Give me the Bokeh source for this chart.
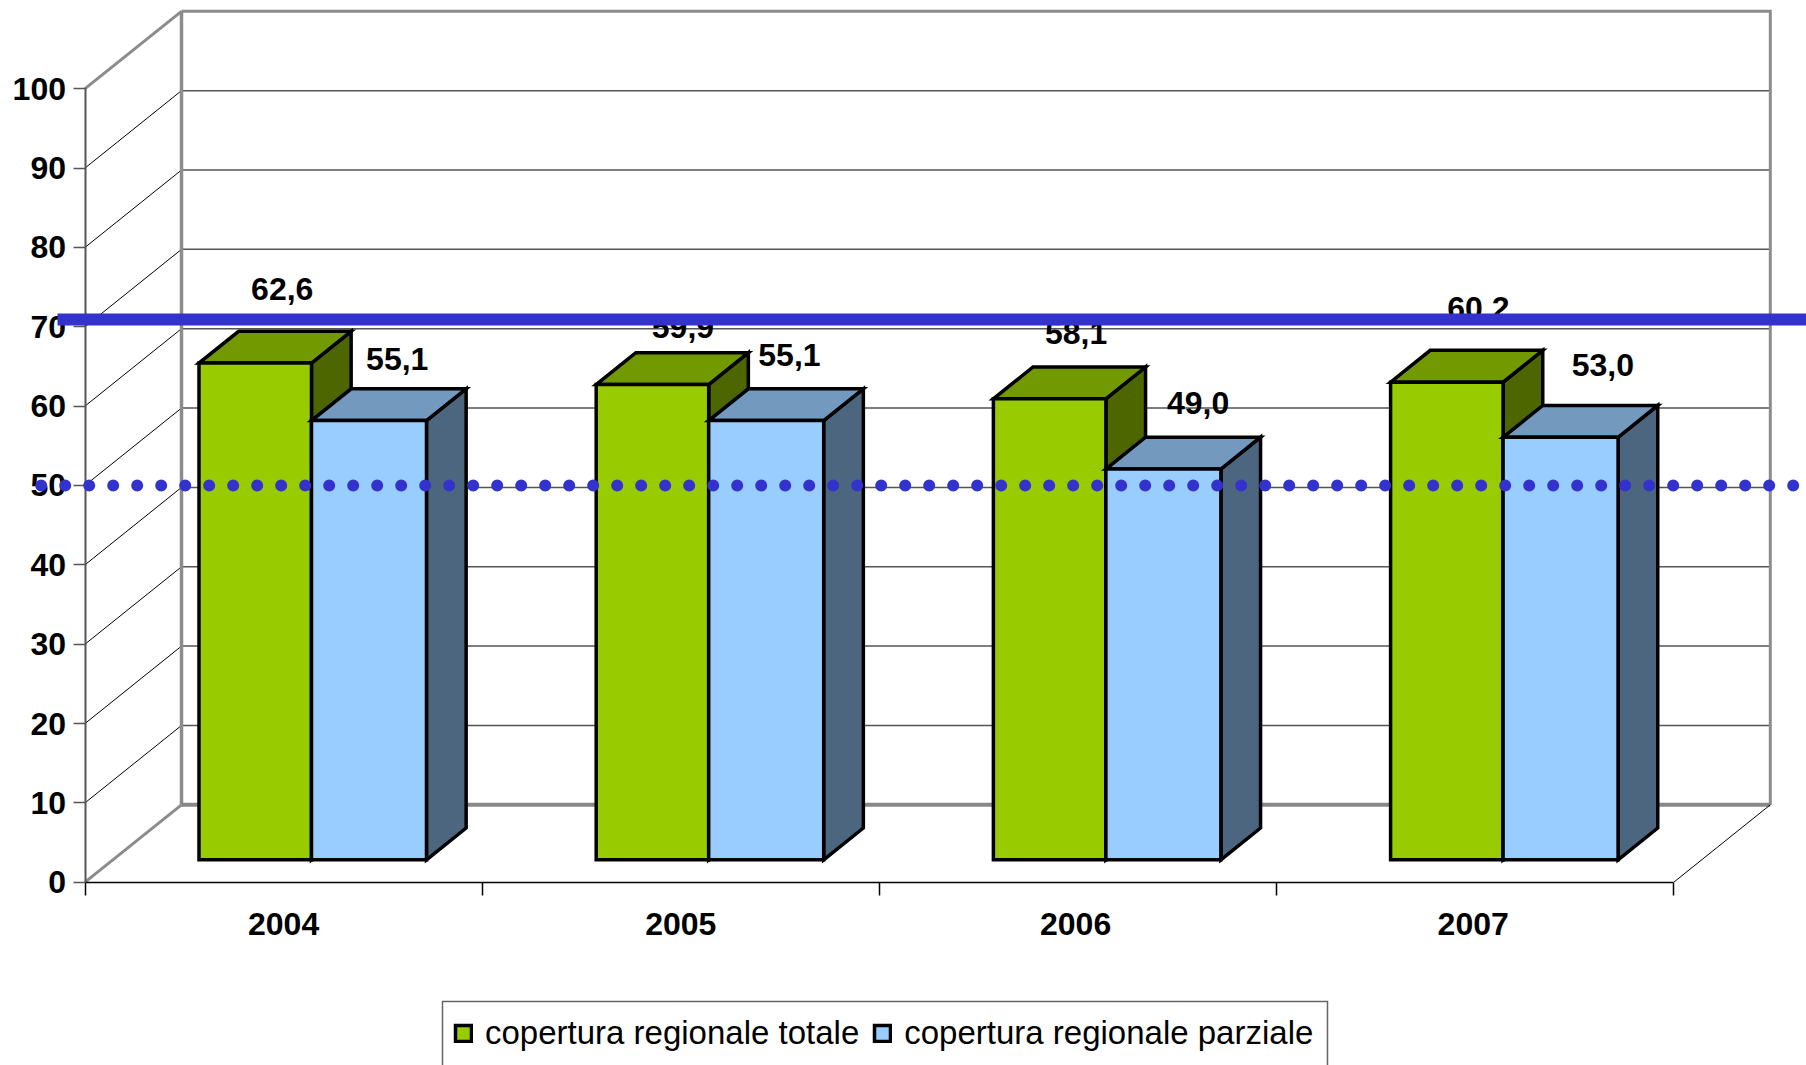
from bokeh.embed import file_html
from bokeh.resources import INLINE
from bokeh.plotting import figure
from bokeh.models import LinearAxis, FixedTicker, ColumnDataSource, Legend, LegendItem
from bokeh.core.properties import value

# ---- data ----
years = ["2004", "2005", "2006", "2007"]
totale = [62.6, 59.9, 58.1, 60.2]
parziale = [55.1, 55.1, 49.0, 53.0]
label_totale = ["62,6", "59,9", "58,1", "60,2"]
label_parziale = ["55,1", "55,1", "49,0", "53,0"]
y_ticks = [0, 10, 20, 30, 40, 50, 60, 70, 80, 90, 100]
target_high = 70.9
target_low = 50.0
series_names = ["copertura regionale totale", "copertura regionale parziale"]

# ---- label placement (screen px offset from the front-top-centre of each bar) ----
off_totale = [(27.5, -74), (31, -58), (27, -66), (32, -74)]
off_parziale = [(29, -64), (24, -68), (35.5, -68), (43, -74)]

# ---- layout ----
W, H = 1806, 1065
X0, Y0 = 84.5, 881.7        # page px of the front-left origin
PX_CAT, PX_VAL = 397.2, 7.935
DX, DY = 96.5 / PX_CAT, 77.4 / PX_VAL   # wall depth, in data units
GREEN = ("#99CC00", "#739900", "#4D6600")
BLUE = ("#99CCFF", "#7399BF", "#4D6680")
BAR_W = 1 / 3.5
BAR_WS = (112.5 / PX_CAT, 115 / PX_CAT)   # as rasterised in the reference
TOP_NUDGE = (0, 2 / PX_VAL)               # blue fronts sit 2px higher in the reference
D0, D1 = 0.289, 0.70
FONT = "Liberation Sans"

p = figure(width=W, height=H, output_backend="svg", toolbar_location=None,
           x_axis_type=None, y_axis_type=None, min_border=0,
           x_range=(-X0 / PX_CAT, (W - X0) / PX_CAT),
           y_range=((Y0 - H) / PX_VAL, Y0 / PX_VAL),
           background_fill_color="white", border_fill_color="white",
           outline_line_color=None)


def proj(c, v, d):
    return c + d * DX, v + d * DY


def page(px, py):
    return (px - X0) / PX_CAT, (Y0 - py) / PX_VAL


n = len(years)
# walls and gridlines
inner = [t for t in y_ticks if 0 < t < 100]
xs_diag, ys_diag, xs_back, ys_back = [], [], [], []
for t in inner:
    bx, by = proj(0, t, 1)
    xs_diag.append([0, bx]); ys_diag.append([t, by])
    ex, _ = proj(n, t, 1)
    xs_back.append([bx, ex]); ys_back.append([by, by])
p.multi_line(xs_back, ys_back, line_color="#555555", line_width=1.5)
p.multi_line(xs_diag, ys_diag, line_color="#000000", line_width=1)

bl = proj(0, 0, 1); br = proj(n, 0, 1); tl = proj(0, 100, 1); tr = proj(n, 100, 1)
p.line([tl[0], tr[0], br[0]], [tl[1], tr[1], br[1]], line_color="#8C8C8C", line_width=3, line_join="miter")
p.line([tl[0], bl[0]], [tl[1], bl[1]], line_color="#8C8C8C", line_width=3.5)
p.line([bl[0], br[0]], [bl[1], br[1]], line_color="#888888", line_width=4)
p.line([0, tl[0]], [100, tl[1]], line_color="#8C8C8C", line_width=3)
p.line([0, bl[0]], [0, bl[1]], line_color="#8C8C8C", line_width=3)
p.line([n, br[0]], [0, br[1]], line_color="#000000", line_width=1)


# bars as projected boxes
def box(x0, x1, v):
    a = proj(x0, 0, D0); b = proj(x1, 0, D0)
    c = proj(x1, v, D0); d = proj(x0, v, D0)
    e = proj(x0, v, D1); f = proj(x1, v, D1); g = proj(x1, 0, D1)
    side = ([b[0], g[0], f[0], c[0]], [b[1], g[1], f[1], c[1]])
    top = ([d[0], c[0], f[0], e[0]], [d[1], c[1], f[1], e[1]])
    front = ([a[0], b[0], c[0], d[0]], [a[1], b[1], c[1], d[1]])
    return side, top, front


xs, ys, colors = [], [], []
green_idx = blue_idx = None
for i in range(n):
    mid = i + 0.5
    for j, (vals, pal) in enumerate(((totale, GREEN), (parziale, BLUE))):
        x0 = mid - BAR_WS[0] if j == 0 else mid
        side, top, front = box(x0, x0 + BAR_WS[j], vals[i] + TOP_NUDGE[j])
        for face, col in zip((side, top, front), (pal[2], pal[1], pal[0])):
            xs.append(face[0]); ys.append(face[1]); colors.append(col)
        if i == 0 and j == 0:
            green_idx = len(xs) - 1
        if i == 0 and j == 1:
            blue_idx = len(xs) - 1
src = ColumnDataSource(dict(xs=xs, ys=ys, color=colors))
bars = p.patches("xs", "ys", source=src, fill_color="color", line_color="#000000",
                 line_width=3.5, line_join="miter")

# data labels
lx, ly, lt, ox, oy = [], [], [], [], []
for i in range(n):
    mid = i + 0.5
    for j, (vals, labs, offs) in enumerate(((totale, label_totale, off_totale),
                                            (parziale, label_parziale, off_parziale))):
        x0 = mid - BAR_W + j * BAR_W
        fx, fy = proj(x0 + BAR_W / 2, vals[i], D0)
        lx.append(fx); ly.append(fy); lt.append(labs[i]); ox.append(offs[i][0]); oy.append(offs[i][1])
p.text(lx, ly, text=lt, x_offset=ox, y_offset=oy, text_font=value(FONT), text_font_style="bold",
       text_font_size="32px", text_color="#000000", text_align="center", text_baseline="middle")

# axes
yax = LinearAxis(ticker=FixedTicker(ticks=y_ticks), fixed_location=0, bounds=(0, 100),
                 axis_line_color="#555555", axis_line_width=2,
                 major_tick_line_color="#555555", major_tick_line_width=1.5,
                 major_tick_in=0, major_tick_out=12, minor_tick_line_color=None,
                 major_label_standoff=7, major_label_text_font=FONT,
                 major_label_text_font_style="bold", major_label_text_font_size="32px",
                 major_label_text_color="#000000")
p.add_layout(yax, "left")
xtick = LinearAxis(ticker=FixedTicker(ticks=list(range(n + 1))), fixed_location=0, bounds=(0, n),
                   axis_line_color="#000000", axis_line_width=1.5,
                   major_tick_line_color="#000000", major_tick_line_width=1.5,
                   major_tick_in=0, major_tick_out=13, minor_tick_line_color=None,
                   major_label_text_color=None, major_label_text_font_size="1px")
p.add_layout(xtick, "below")
label_pos = [0.5, 1.5, 2.494, 3.495]
xlab = LinearAxis(ticker=FixedTicker(ticks=label_pos), fixed_location=0,
                  major_label_overrides={label_pos[i]: years[i] for i in range(n)},
                  axis_line_color=None, major_tick_line_color=None, major_tick_in=0, major_tick_out=0,
                  minor_tick_line_color=None, major_label_standoff=31, major_label_text_font=FONT,
                  major_label_text_font_style="bold", major_label_text_font_size="32px",
                  major_label_text_color="#000000")
p.add_layout(xlab, "below")

# reference lines, on top of everything
s = page(57, 0)[0]
e = p.x_range.end
p.line([s, e], [target_high, target_high], line_color="#3333CC", line_width=12, line_cap="butt", level="overlay")
s2 = page(40.7, 0)[0]
p.line([s2, e], [target_low, target_low], line_color="#3333CC", line_width=12, line_cap="round",
       line_dash="0 24", level="overlay")

# legend
lb = [page(442, 1070), page(442, 1001), page(1327, 1001), page(1327, 1070)]
p.line([a for a, _ in lb], [b for _, b in lb], line_color="#666666", line_width=1.5, line_join="miter")
legend = Legend(items=[LegendItem(label=series_names[0], renderers=[bars], index=green_idx),
                       LegendItem(label=series_names[1], renderers=[bars], index=blue_idx)],
                orientation="horizontal", location=(453, H - 1052), padding=0, margin=0, spacing=13,
                glyph_width=20, glyph_height=20, label_standoff=12, label_text_font=FONT,
                label_text_font_size="33px", label_text_color="#000000",
                border_line_color=None, background_fill_alpha=0)
p.add_layout(legend, "center")

open("out.html", "w").write(file_html(p, INLINE))
